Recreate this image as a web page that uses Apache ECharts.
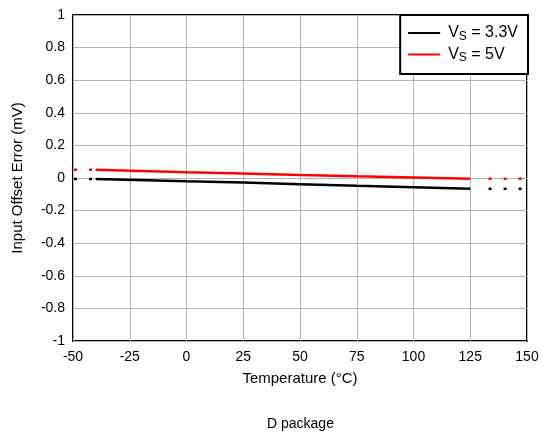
<!DOCTYPE html>
<html><head><meta charset="utf-8">
<script src="https://cdn.jsdelivr.net/npm/echarts@6/dist/echarts.min.js"></script>
<style>html,body{margin:0;padding:0;background:#fff}#c{width:543px;height:437px}</style>
</head><body><div id="c"></div>
<script>
var temps = [-40, 0, 25, 50, 75, 100, 125];
var vs33 = [-0.006, -0.02, -0.028, -0.038, -0.048, -0.056, -0.066];
var vs5 = [0.05, 0.035, 0.027, 0.018, 0.01, 0.003, -0.004];
var extLeftT = [-50, -40];
var extRightT = [130, 150];
var xTicks = [-50, -25, 0, 25, 50, 75, 100, 125, 150];
var yTicks = [-1, -0.8, -0.6, -0.4, -0.2, 0, 0.2, 0.4, 0.6, 0.8, 1];

function pairs(xs, ys){ return xs.map(function(x,i){return [x, ys[i]];}); }
var font = 'Liberation Sans, Arial, sans-serif';
var chart = echarts.init(document.getElementById('c'));
var dashed = [3, 12];
chart.setOption({
  animation: false,
  textStyle: {fontFamily: font},
  grid: {left: 73, right: 16, top: 15, bottom: 96, show: true, borderColor: '#000', borderWidth: 2, backgroundColor: 'transparent'},
  xAxis: {
    type: 'value', min: -50, max: 150, interval: 25,
    axisLine: {show: false}, axisTick: {show: false},
    axisLabel: {color: '#000', fontSize: 14, margin: 9, fontFamily: font},
    splitLine: {show: true, lineStyle: {color: '#b4b4b4', width: 1}},
    name: 'Temperature (\u00B0C)', nameLocation: 'middle', nameGap: 30,
    nameTextStyle: {color: '#000', fontSize: 15, fontFamily: font}
  },
  yAxis: {
    type: 'value', min: -1, max: 1, interval: 0.2,
    axisLine: {show: false}, axisTick: {show: false},
    axisLabel: {color: '#000', fontSize: 14, margin: 8, fontFamily: font,
      formatter: function(v){ return String(Math.round(v*10)/10); }},
    splitLine: {show: true, lineStyle: {color: '#b4b4b4', width: 1}},
    name: 'Input Offset Error (mV)', nameLocation: 'middle', nameGap: 48,
    nameTextStyle: {color: '#000', fontSize: 15, fontFamily: font}
  },
  legend: {
    data: ['VS = 3.3V', 'VS = 5V'],
    orient: 'vertical', right: 15, top: 15,
    backgroundColor: '#fff', borderColor: '#000', borderWidth: 2, borderRadius: 0,
    padding: [10, 10, 10, 8], itemGap: 4, itemWidth: 32, itemHeight: 14,
    icon: 'path://M0,6 L32,6 L32,8 L0,8 Z',
    formatter: function(n){ return n === 'VS = 3.3V' ? '{f|V}{s|S}{a| = 3.3V}' : '{f|V}{s|S}{a| = 5V}'; },
    textStyle: {rich: {
      f: {fontSize: 16, color: '#000', fontFamily: font, padding: [0,0,0,3]},
      a: {fontSize: 16, color: '#000', fontFamily: font},
      s: {fontSize: 12, color: '#000', fontFamily: font, verticalAlign: 'bottom', padding: [7,0,0,0]}
    }}
  },
  series: [
    {name: 'VS = 3.3V', type: 'line', data: pairs(temps, vs33), symbol: 'none', lineStyle: {color: '#000', width: 2.5}, itemStyle: {color: '#000'}},
    {name: 'VS = 5V', type: 'line', data: pairs(temps, vs5), symbol: 'none', lineStyle: {color: '#ff0000', width: 2.5}, itemStyle: {color: '#ff0000'}},
    {name: 'e1', type: 'line', data: pairs(extLeftT, [vs33[0], vs33[0]]), symbol: 'none', lineStyle: {color: '#000', width: 2.5, type: dashed, dashOffset: -1}},
    {name: 'e2', type: 'line', data: pairs(extRightT, [vs33[6], vs33[6]]), symbol: 'none', lineStyle: {color: '#000', width: 2.5, type: dashed, dashOffset: 8}},
    {name: 'e3', type: 'line', data: pairs(extLeftT, [vs5[0], vs5[0]]), symbol: 'none', lineStyle: {color: '#ff0000', width: 2.5, type: dashed, dashOffset: -1}},
    {name: 'e4', type: 'line', data: pairs(extRightT, [vs5[6], vs5[6]]), symbol: 'none', lineStyle: {color: '#ff0000', width: 2.5, type: dashed, dashOffset: 8}}
  ],
  graphic: [{type: 'text', left: 267, top: 417, style: {text: 'D package', fontSize: 14, fill: '#000', fontFamily: font}}]
});
</script></body></html>
